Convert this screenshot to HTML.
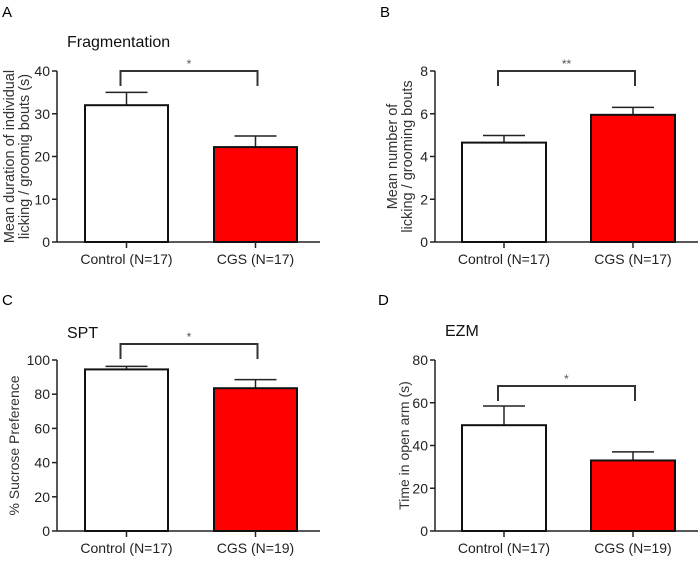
<!DOCTYPE html>
<html><head><meta charset="utf-8"><style>
html,body{margin:0;padding:0;background:#fff;}
svg{display:block;font-family:"Liberation Sans",Arial,sans-serif;}
</style></head><body>
<svg id="fig" width="700" height="562" viewBox="0 0 700 562"></svg>
<script>
const groups = ["Control (N=17)", "CGS (N=17)"];
const groupsC = ["Control (N=17)", "CGS (N=19)"];
const meanA = [32, 22.2];
const semA = [3, 2.6];
const meanB = [4.65, 5.95];
const semB = [0.33, 0.35];
const meanC = [94.5, 83.5];
const semC = [1.8, 5];
const meanD = [49.5, 33];
const semD = [9, 4];
const ticksA = [0, 10, 20, 30, 40];
const ticksB = [0, 2, 4, 6, 8];
const ticksC = [0, 20, 40, 60, 80, 100];
const ticksD = [0, 20, 40, 60, 80];
const sigA = "*", sigB = "**", sigC = "*", sigD = "*";

const NS = "http://www.w3.org/2000/svg";
const svg = document.getElementById('fig');
function mk(tag, attrs, parent, text){
  const e = document.createElementNS(NS, tag);
  for (const k in attrs) e.setAttribute(k, attrs[k]);
  if (text !== undefined) e.textContent = text;
  (parent || svg).appendChild(e);
  return e;
}
const fills = ["#ffffff", "#ff0000"];

function panel(o){
  const g = mk('g', {});
  
  
  const ymax = o.ticks[o.ticks.length-1];
  const Y = v => o.y0 - (v / ymax) * (o.y0 - o.ytop);
  const lt = mk('text', {x:o.letterX, y:o.letterY, 'font-size':15, fill:'#000'}, g, o.letter);
  
  
  if (o.title){
    const t = mk('text', {x:o.titleX, y:o.titleY, 'font-size':16, fill:'#111'}, g, o.title);
    
    
  }
  const ya = mk('line', {x1:o.ax, y1:o.ytop, x2:o.ax, y2:o.y0, stroke:'#222', 'stroke-width':1.5}, g);
  
  
  const xa = mk('line', {x1:o.ax, y1:o.y0, x2:o.axEnd, y2:o.y0, stroke:'#222', 'stroke-width':1.5}, g);
  
  
  o.ticks.forEach(v => {
    mk('line', {x1:o.ax-5, y1:Y(v), x2:o.ax, y2:Y(v), stroke:'#222', 'stroke-width':1.5}, g);
    const tl = mk('text', {x:o.ax-7, y:Y(v)+5, 'font-size':14, 'text-anchor':'end', fill:'#222'}, g, String(v));
    
    
  });
  const cy = (o.ytop + o.y0)/2;
  o.ylabel.forEach((line, i) => {
    const x = o.ylabX[i];
    const yt = mk('text', {x:x, y:cy, 'font-size':o.ylabSize, 'text-anchor':'middle', fill:'#333', transform:`rotate(-90 ${x} ${cy})`}, g, line);
    
    
  });
  const centers = [];
  o.mean.forEach((m, i) => {
    const x1 = o.bars[i][0], x2 = o.bars[i][1], c = (x1+x2)/2;
    centers.push(c);
    const top = Y(m + o.sem[i]);
    const eb = mk('line', {x1:c, y1:Y(m), x2:c, y2:top, stroke:'#222', 'stroke-width':1.5}, g);
    
    
    mk('line', {x1:c-21, y1:top, x2:c+21, y2:top, stroke:'#222', 'stroke-width':1.5}, g);
    const r = mk('rect', {x:x1, y:Y(m), width:x2-x1, height:o.y0-Y(m), fill:fills[i], stroke:'#111', 'stroke-width':2}, g);
    
    
    mk('line', {x1:c, y1:o.y0, x2:c, y2:o.y0+6, stroke:'#222', 'stroke-width':1.5}, g);
    const xl = mk('text', {x:c, y:o.y0+22, 'font-size':14, 'text-anchor':'middle', fill:'#222'}, g, o.groups[i]);
    
    
  });
  const bx1 = centers[0]-6, bx2 = centers[1]+2;
  const br = mk('path', {d:`M${bx1} ${o.brY+15} V${o.brY} H${bx2} V${o.brY+15}`, fill:'none', stroke:'#333', 'stroke-width':2}, g);
  
  
  const st = mk('text', {x:(bx1+bx2)/2, y:o.brY-3, 'font-size':12, 'text-anchor':'middle', fill:'#555'}, g, o.sig);
  
  
}

panel({name:'panel-a', letter:'A', letterX:2, letterY:17, title:'Fragmentation', titleX:67, titleY:47,
  ax:57, axEnd:320, y0:242, ytop:71, ticks:ticksA, mean:meanA, sem:semA, bars:[[85,168],[214,297]],
  groups:groups, ylabel:['Mean duration of individual','licking / groomig bouts (s)'], ylabX:[14,29], ylabSize:14.5, brY:71, sig:sigA});
panel({name:'panel-b', letter:'B', letterX:380, letterY:17, title:null,
  ax:435, axEnd:698, y0:242, ytop:71, ticks:ticksB, mean:meanB, sem:semB, bars:[[462,546],[591,675]],
  groups:groups, ylabel:['Mean number of','licking / grooming bouts'], ylabX:[397,412], ylabSize:14.5, brY:71, sig:sigB});
panel({name:'panel-c', letter:'C', letterX:2, letterY:305, title:'SPT', titleX:67, titleY:338,
  ax:57, axEnd:320, y0:531, ytop:360, ticks:ticksC, mean:meanC, sem:semC, bars:[[85,168],[214,297]],
  groups:groupsC, ylabel:['% Sucrose Preference'], ylabX:[19], ylabSize:14, brY:344, sig:sigC});
panel({name:'panel-d', letter:'D', letterX:378, letterY:305, title:'EZM', titleX:445, titleY:336,
  ax:435, axEnd:698, y0:531, ytop:360, ticks:ticksD, mean:meanD, sem:semD, bars:[[462,546],[591,675]],
  groups:groupsC, ylabel:['Time in open arm (s)'], ylabX:[409], ylabSize:14, brY:386, sig:sigD});
</script>
</body></html>
